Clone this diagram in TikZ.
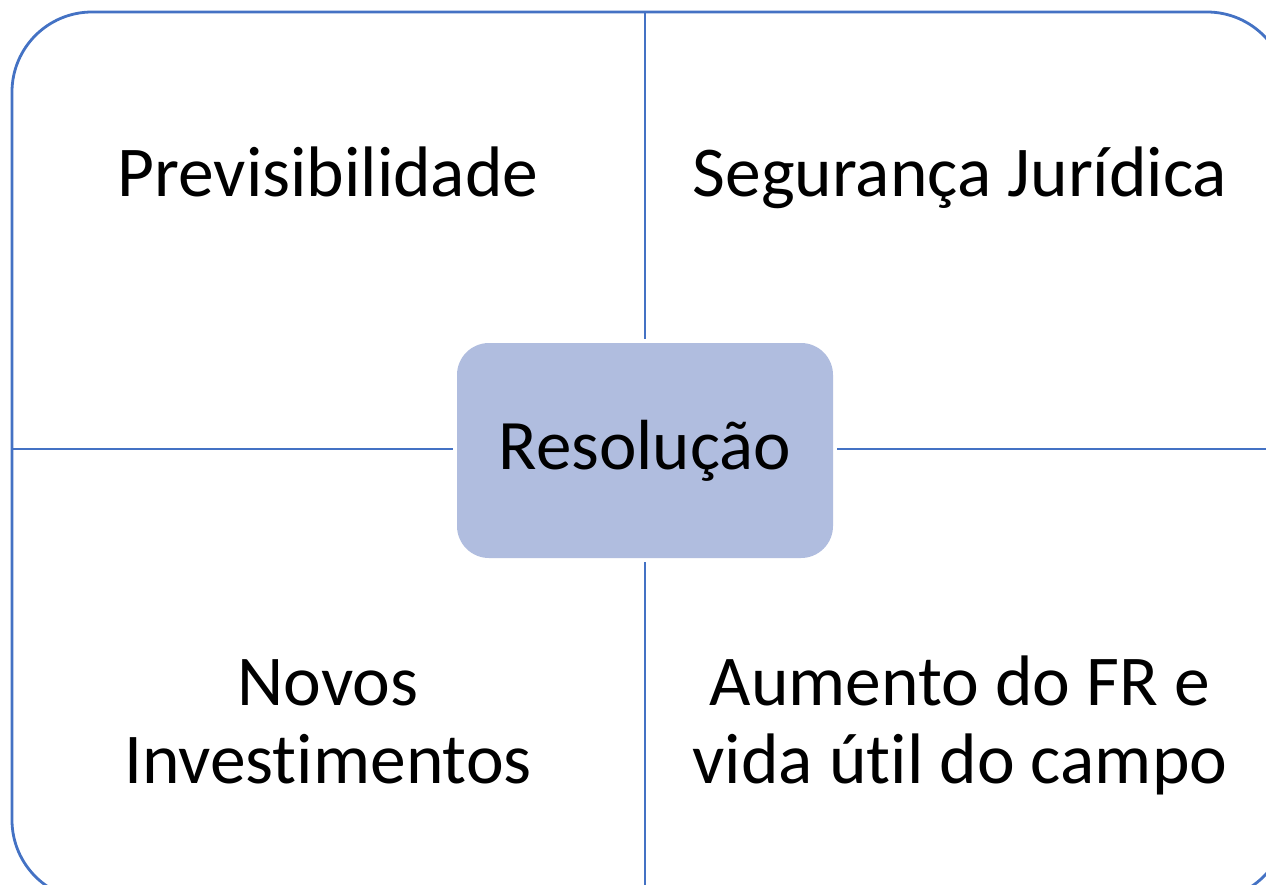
\documentclass[tikz,border=0pt]{standalone}
\usepackage{fontspec}
\setmainfont{Carlito}[Ligatures=CommonOff]
\definecolor{frame}{HTML}{4472C4}
\definecolor{boxfill}{HTML}{B0BDDF}
\begin{document}
\begin{tikzpicture}[x=1pt,y=-1pt,
  frameline/.style={draw=frame,line width=2.8pt},
  label/.style={font=\fontsize{71.5}{78}\selectfont,align=center,inner sep=0pt,anchor=base},
  centre/.style={fill=boxfill,rounded corners=32pt,minimum width=376pt,minimum height=215pt,inner sep=0pt,font=\fontsize{71}{84}\selectfont}]
\useasboundingbox (0,0) rectangle (1266,884);
\clip (0,0) rectangle (1266,884);
\fill[white] (0,0) rectangle (1266,884);
\draw[frameline,rounded corners=80pt] (12,12) rectangle (1287,900);
\coordinate (top) at (645,12);
\coordinate (bottom) at (645,900);
\coordinate (left) at (12,449);
\coordinate (right) at (1287,449);
\node[centre] (res) at (645,450.5) {Resolução};
\draw[frameline,shorten >=4pt] (top) -- (res.north -| top);
\draw[frameline,shorten >=4pt] (bottom) -- (res.south -| bottom);
\draw[frameline,shorten >=4pt] (left) -- (res.west |- left);
\draw[frameline,shorten >=4pt] (right) -- (res.east |- right);
\node[label] (q1) at (328,196) {Previsibilidade};
\node[label] (q2) at (960,196) {Segurança Jurídica};
\node[label] (q3) at (328,783) {Novos\\Investimentos};
\node[label] (q4) at (960,783) {Aumento do FR e\\vida útil do campo};
\end{tikzpicture}
\end{document}
